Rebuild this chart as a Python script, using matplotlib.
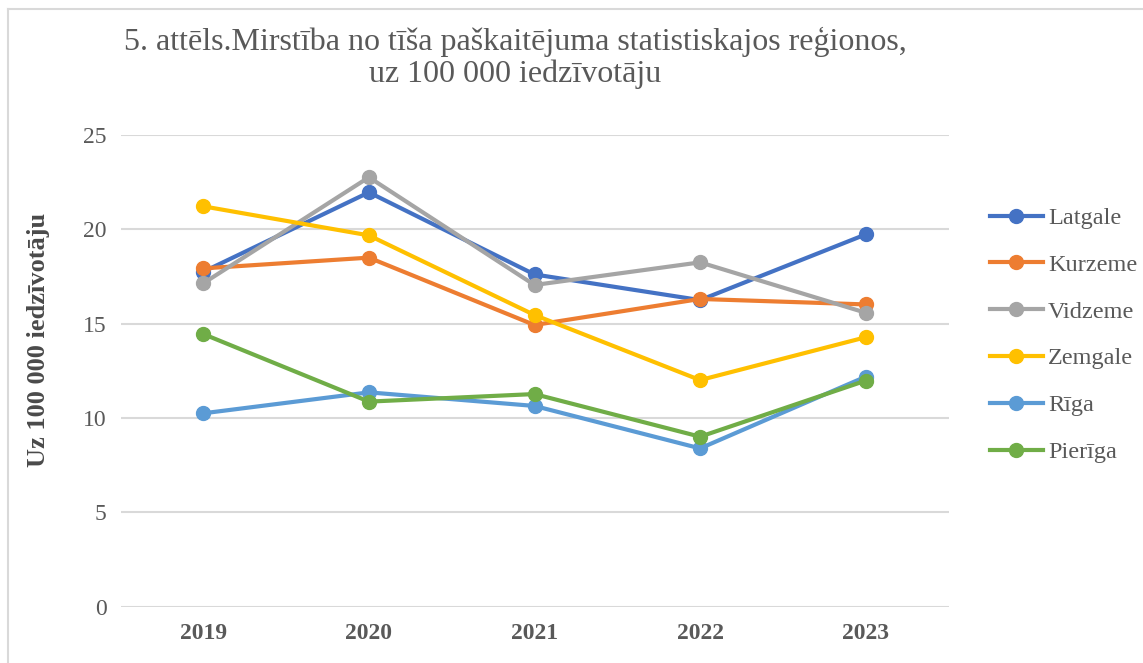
import matplotlib
matplotlib.use("Agg")
import matplotlib.pyplot as plt
from matplotlib.lines import Line2D

years = ["2019", "2020", "2021", "2022", "2023"]
latgale = [17.75, 21.96, 17.61, 16.25, 19.73]
kurzeme = [17.93, 18.50, 14.93, 16.31, 16.02]
vidzeme = [17.14, 22.76, 17.05, 18.25, 15.58]
zemgale = [21.22, 19.68, 15.46, 12.01, 14.28]
riga = [10.25, 11.36, 10.64, 8.39, 12.19]
pieriga = [14.45, 10.87, 11.27, 9.01, 11.98]

series_names = ["Latgale", "Kurzeme", "Vidzeme", "Zemgale", "Rīga", "Pierīga"]
series_values = [latgale, kurzeme, vidzeme, zemgale, riga, pieriga]
colors = ["#4472C4", "#ED7D31", "#A5A5A5", "#FFC000", "#5B9BD5", "#70AD47"]

plt.rcParams['font.family'] = ['Liberation Serif', 'DejaVu Serif']

fig = plt.figure(figsize=(11.43, 6.63), dpi=100)
ax = fig.add_axes([120.5 / 1143, 1 - 606.7 / 663, (948.5 - 120.5) / 1143, (606.7 - 135) / 663])

x = list(range(len(years)))
for name, vals, c in zip(series_names, series_values, colors):
    ax.plot(x, vals, color=c, lw=3.0, marker='o', markersize=10, label=name,
            solid_capstyle='round')

ax.set_xlim(-0.5, len(years) - 0.5)
ax.set_ylim(0, 25)
ax.set_yticks([0, 5, 10, 15, 20, 25])
ax.set_xticks(x)
ax.set_xticklabels(years, fontweight='bold')
ax.tick_params(axis='both', length=0, labelsize=17, colors='#595959')
ax.tick_params(axis='y', pad=10)
ax.tick_params(axis='x', pad=12)
ax.grid(axis='y', color='#d9d9d9', lw=1.5)
ax.set_axisbelow(True)
for s in ax.spines.values():
    s.set_visible(False)

fig.text(515 / 1143, 1 - 42 / 663, "5. attēls.Mirstība no tīša paškaitējuma statistiskajos reģionos,",
         ha='center', va='center', fontsize=23, color='#595959')
fig.text(515 / 1143, 1 - 74 / 663, "uz 100 000 iedzīvotāju",
         ha='center', va='center', fontsize=23, color='#595959')

fig.text(39 / 1143, 1 - 340 / 663, "Uz 100 000 iedzīvotāju", rotation=90,
         ha='center', va='center', fontsize=19, fontweight='bold', color='#4a4a4a')

handles = [Line2D([0], [0], color=c, lw=3.0, marker='o', markersize=10) for c in colors]
leg = fig.legend(handles, series_names, loc='upper left',
                 bbox_to_anchor=(990 / 1143, 1 - 207 / 663),
                 frameon=False, fontsize=17.5, handlelength=2.18, handletextpad=0.2,
                 labelspacing=1.02, borderpad=0, borderaxespad=0)
for t in leg.get_texts():
    t.set_color('#595959')

# chart area border
fig.add_artist(Line2D([8 / 1143, 1], [1 - 9 / 663, 1 - 9 / 663], color='#d9d9d9', lw=1.5,
                      transform=fig.transFigure))
fig.add_artist(Line2D([8 / 1143, 8 / 1143], [0, 1 - 9 / 663], color='#d9d9d9', lw=1.5,
                      transform=fig.transFigure))

fig.savefig("out.png", dpi=100, facecolor='white')
